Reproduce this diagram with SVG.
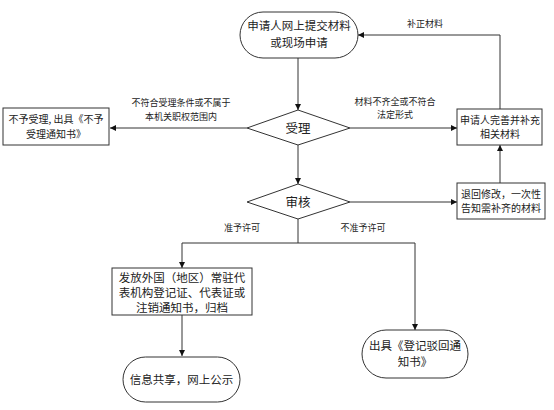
<svg xmlns="http://www.w3.org/2000/svg" width="554" height="410" viewBox="0 0 554 410">
<defs>
<marker id="arr" viewBox="0 0 8 8" refX="8" refY="4" markerWidth="6" markerHeight="6" markerUnits="userSpaceOnUse" orient="auto">
<path d="M0,0 L8,4 L0,8 Z" fill="#111"/>
</marker>
<style>
.shape{fill:#fff;stroke:#333;stroke-width:1}
.t{font-family:"Noto Sans CJK SC","Noto Sans",sans-serif;fill:#222;text-anchor:middle}
.big{font-size:11.5px}
.mid{font-size:10px}
.sm{font-size:9px}
.dia{font-size:12.5px}
.line{fill:none;stroke:#333;stroke-width:1}
</style>
</defs>
<rect width="554" height="410" fill="#fff"/>
<g id="connectors">
<path class="line" d="M298,58 V110" marker-end="url(#arr)"/>
<path class="line" d="M247,128 H110" marker-end="url(#arr)"/>
<path class="line" d="M350,128 H457" marker-end="url(#arr)"/>
<path class="line" d="M500,109 V35 H358" marker-end="url(#arr)"/>
<path class="line" d="M298,145 V184" marker-end="url(#arr)"/>
<path class="line" d="M350,202 H457" marker-end="url(#arr)"/>
<path class="line" d="M500,183 V145" marker-end="url(#arr)"/>
<path class="line" d="M298,219 V243"/>
<path class="line" d="M182,243 H415"/>
<path class="line" d="M182,243 V268" marker-end="url(#arr)"/>
<path class="line" d="M415,243 V330" marker-end="url(#arr)"/>
<path class="line" d="M182,315 V356" marker-end="url(#arr)"/>
<text class="t sm" x="425" y="27">补正材料</text>
<text class="t sm" x="181" y="106">不符合受理条件或不属于</text>
<text class="t sm" x="181" y="120">本机关职权范围内</text>
<text class="t sm" x="395" y="105">材料不齐全或不符合</text>
<text class="t sm" x="395" y="118">法定形式</text>
<text class="t sm" x="242" y="231">准予许可</text>
<text class="t sm" x="363" y="231">不准予许可</text>
</g>
<g id="node-apply">
<rect class="shape" x="240" y="12" width="118" height="46" rx="23"/>
<text class="t big" x="299" y="30">申请人网上提交材料</text>
<text class="t big" x="299" y="47">或现场申请</text>
</g>
<g id="node-accept">
<polygon class="shape" points="298,110 350,128 298,145 247,128"/>
<text class="t dia" x="298" y="132.5">受理</text>
</g>
<g id="node-reject">
<rect class="shape" x="3" y="108" width="106" height="37"/>
<text class="t mid" x="56" y="123">不予受理, 出具《不予</text>
<text class="t mid" x="56" y="138">受理通知书》</text>
</g>
<g id="node-supplement">
<rect class="shape" x="457" y="109" width="85" height="36"/>
<text class="t mid" x="500" y="124">申请人完善并补充</text>
<text class="t mid" x="500" y="138">相关材料</text>
</g>
<g id="node-review">
<polygon class="shape" points="298,184 350,202 298,219 247,202"/>
<text class="t dia" x="298" y="206.5">审核</text>
</g>
<g id="node-return">
<rect class="shape" x="457" y="183" width="88" height="36"/>
<text class="t mid" x="501" y="198">退回修改，一次性</text>
<text class="t mid" x="501" y="212">告知需补齐的材料</text>
</g>
<g id="node-issue">
<rect class="shape" x="112" y="268" width="140" height="47"/>
<text class="t big" x="182" y="282">发放外国（地区）常驻代</text>
<text class="t big" x="182" y="297">表机构登记证、代表证或</text>
<text class="t big" x="182" y="312">注销通知书，归档</text>
</g>
<g id="node-publish">
<rect class="shape" x="123" y="357" width="117" height="45" rx="22.5"/>
<text class="t big" x="181.5" y="383.5">信息共享，网上公示</text>
</g>
<g id="node-rejectnotice">
<rect class="shape" x="362" y="330" width="106" height="48" rx="24"/>
<text class="t big" x="415" y="350">出具《登记驳回通</text>
<text class="t big" x="415" y="366">知书》</text>
</g>
</svg>
